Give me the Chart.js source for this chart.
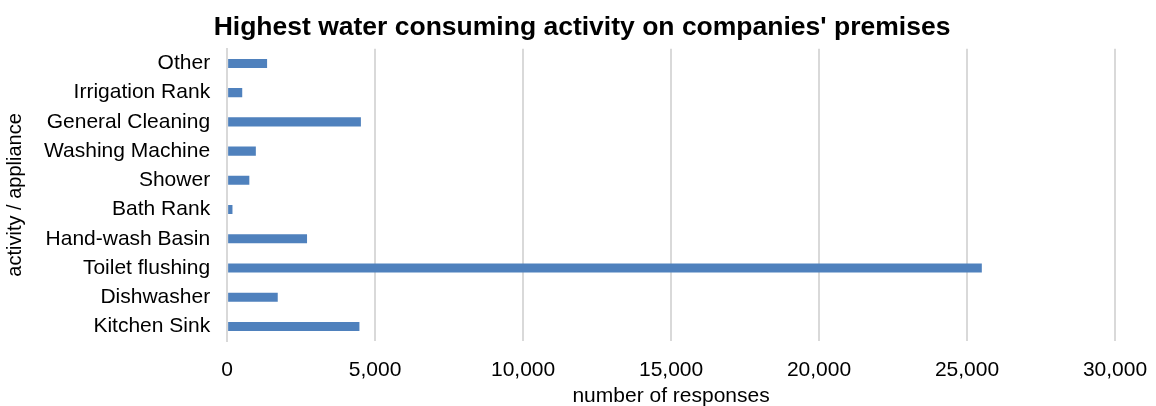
<!DOCTYPE html>
<html>
<head>
<meta charset="utf-8">
<script src="https://cdn.jsdelivr.net/npm/chart.js@4"></script>
<style>
  html, body { margin: 0; padding: 0; background: #fff; }
  #wrap { width: 1156px; height: 406px; }
</style>
</head>
<body>
<div id="wrap"><canvas id="waterChart" width="1156" height="406"></canvas></div>
<script>
const activities = [
  "Other", "Irrigation Rank", "General Cleaning", "Washing Machine", "Shower",
  "Bath Rank", "Hand-wash Basin", "Toilet flushing", "Dishwasher", "Kitchen Sink"
];
const responses = [1350, 510, 4520, 970, 750, 180, 2700, 25500, 1710, 4470];
const xTicks = [0, 5000, 10000, 15000, 20000, 25000, 30000];

const font = "'Liberation Sans', Arial, sans-serif";

// nudge the title a little right so it sits over the labels + plot
const titleShift = {
  id: "titleShift",
  afterLayout(chart) {
    const t = chart.titleBlock;
    if (t) {
      t.left = 49;
      t.width = t.right - t.left;
    }
  }
};

new Chart(document.getElementById("waterChart"), {
  type: "bar",
  plugins: [titleShift],
  data: {
    labels: activities,
    datasets: [{
      data: responses,
      backgroundColor: "#4f81bd",
      barPercentage: 0.31,
      categoryPercentage: 1.0
    }]
  },
  options: {
    indexAxis: "y",
    responsive: false,
    animation: false,
    layout: { padding: { top: 0, right: 41, bottom: 0, left: 0 } },
    plugins: {
      legend: { display: false },
      tooltip: { enabled: false },
      title: {
        display: true,
        text: "Highest water consuming activity on companies' premises",
        color: "#000",
        font: { family: font, size: 26.5, weight: "bold" },
        padding: { top: 12, bottom: 5 }
      }
    },
    scales: {
      x: {
        min: xTicks[0],
        max: xTicks[xTicks.length - 1],
        afterBuildTicks: (axis) => { axis.ticks = xTicks.map(v => ({ value: v })); },
        // let the layout padding alone decide where the plot ends
        afterFit: (axis) => { axis.paddingLeft = 0; axis.paddingRight = 0; },
        grid: { color: "#d9d9d9", lineWidth: 2, drawTicks: false, tickLength: 0 },
        border: { display: false },
        ticks: {
          color: "#000",
          padding: 17,
          maxRotation: 0,
          font: { family: font, size: 21 },
          callback: (v) => v.toLocaleString("en-US")
        },
        title: {
          display: true,
          text: "number of responses",
          color: "#000",
          font: { family: font, size: 21 },
          padding: { top: -16.5, bottom: -3 }
        }
      },
      y: {
        grid: { display: false, drawTicks: false, tickLength: 0 },
        border: { display: true, color: "#d9d9d9", width: 2 },
        ticks: {
          color: "#000",
          padding: 17,
          autoSkip: false,
          font: { family: font, size: 21 }
        },
        title: {
          display: true,
          text: "activity / appliance",
          color: "#000",
          font: { family: font, size: 20 },
          padding: { top: 3, bottom: 0 }
        }
      }
    }
  }
});
</script>
</body>
</html>
